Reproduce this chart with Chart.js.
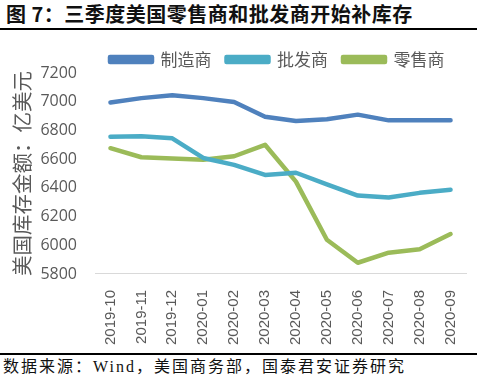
<!DOCTYPE html>
<html>
<head>
<meta charset="utf-8">
<script src="https://cdn.jsdelivr.net/npm/chart.js@4"></script>
<style>
  body { margin: 0; background: #fff; width: 477px; height: 377px; position: relative; overflow: hidden; }
  #title { position: absolute; left: 6px; top: 1px; font: bold 20px "Noto Sans CJK SC", sans-serif; color: #111; letter-spacing: 0.5px; line-height: 26px; }
  #topline { position: absolute; left: 0; top: 28px; width: 477px; height: 1.5px; background: #000; }
  #botline { position: absolute; left: 0; top: 353px; width: 477px; height: 1.5px; background: #000; }
  #source { position: absolute; left: 3px; top: 356px; font: 16px "Liberation Serif", "Noto Sans CJK SC", serif; color: #111; letter-spacing: 2px; line-height: 22px; }
  #wrap { position: absolute; left: 0; top: 36px; width: 477px; height: 317px; }
</style>
</head>
<body>
<div id="title">图 7：三季度美国零售商和批发商开始补库存</div>
<div id="topline"></div>
<div id="wrap"><canvas id="myChart" width="477" height="317"></canvas></div>
<div id="botline"></div>
<div id="source">数据来源：Wind，美国商务部，国泰君安证券研究</div>
<script>
const months = ["2019-10", "2019-11", "2019-12", "2020-01", "2020-02", "2020-03",
  "2020-04", "2020-05", "2020-06", "2020-07", "2020-08", "2020-09"];
const manufacturers = [6995, 7025, 7045, 7025, 6998, 6895, 6865, 6878, 6910, 6870, 6870, 6870];
const wholesalers = [6756, 6760, 6745, 6608, 6560, 6490, 6505, 6424, 6346, 6332, 6365, 6387];
const retailers = [6676, 6613, 6605, 6596, 6620, 6700, 6443, 6038, 5878, 5948, 5972, 6078];

const mkSet = function (label, data, color) {
  return {
    label: label,
    data: data,
    borderColor: color,
    backgroundColor: color,
    borderWidth: 4.5,
    pointRadius: 0,
    tension: 0,
    borderCapStyle: "round",
    borderJoinStyle: "round",
  };
};

const ctx = document.getElementById("myChart").getContext("2d");
const myChart = new Chart(ctx, {
  type: "line",
  data: {
    labels: months,
    datasets: [
      mkSet("制造商", manufacturers, "#4F81BD"),
      mkSet("批发商", wholesalers, "#4BACC6"),
      mkSet("零售商", retailers, "#9BBB59"),
    ],
  },
  options: {
    responsive: false,
    animation: false,
    devicePixelRatio: 1,
    layout: { padding: { left: 0, right: 5, top: 0, bottom: 0 } },
    plugins: {
      legend: {
        display: true,
        position: "top",
        align: "start",
        fullSize: false,
        maxHeight: 37,
        labels: {
          boxWidth: 42,
          boxHeight: 5,
          padding: 15,
          color: "#595959",
          font: { size: 17, family: "Noto Sans CJK SC" },
        },
      },
      tooltip: { enabled: false },
    },
    scales: {
      x: {
        offset: true,
        grid: { display: false },
        border: { display: true, color: "#D9D9D9", width: 1 },
        ticks: {
          color: "#595959",
          font: { size: 15, family: "Liberation Sans" },
          maxRotation: 90,
          minRotation: 90,
          autoSkip: false,
          padding: 8,
        },
      },
      y: {
        min: 5800,
        max: 7200,
        afterFit: function (scale) { scale.width = 95; },
        grid: { display: false, drawTicks: false },
        border: { display: false },
        ticks: {
          stepSize: 200,
          color: "#595959",
          padding: 18,
          font: { size: 16, family: "Open Sans" },
          callback: function (v) { return String(v); },
        },
        title: {
          display: true,
          text: "美国库存金额：亿美元",
          color: "#595959",
          font: { size: 20.5, family: "Noto Sans CJK SC" },
          padding: { top: 10, bottom: 0 },
        },
      },
    },
  },
});
</script>
</body>
</html>
